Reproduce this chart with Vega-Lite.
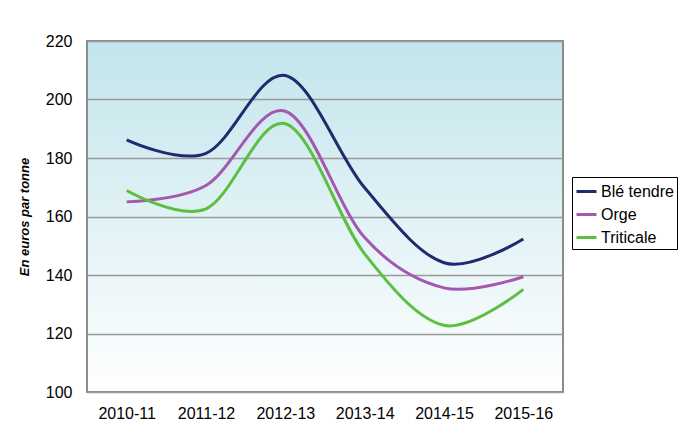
{
  "$schema": "https://vega.github.io/schema/vega-lite/v6.json",
  "width": 476,
  "height": 351,
  "autosize": {"type": "none"},
  "padding": {"left": 87, "top": 41, "right": 120, "bottom": 49},
  "background": "white",
  "data": {
    "values": [
      {"campagne": "2010-11", "culture": "Blé tendre", "prix": 186.2},
      {"campagne": "2011-12", "culture": "Blé tendre", "prix": 181.6},
      {"campagne": "2012-13", "culture": "Blé tendre", "prix": 208.2},
      {"campagne": "2013-14", "culture": "Blé tendre", "prix": 169.8},
      {"campagne": "2014-15", "culture": "Blé tendre", "prix": 144.2},
      {"campagne": "2015-16", "culture": "Blé tendre", "prix": 152.3},
      {"campagne": "2010-11", "culture": "Orge", "prix": 165.0},
      {"campagne": "2011-12", "culture": "Orge", "prix": 170.6},
      {"campagne": "2012-13", "culture": "Orge", "prix": 196.0},
      {"campagne": "2013-14", "culture": "Orge", "prix": 152.8},
      {"campagne": "2014-15", "culture": "Orge", "prix": 135.6},
      {"campagne": "2015-16", "culture": "Orge", "prix": 139.4},
      {"campagne": "2010-11", "culture": "Triticale", "prix": 168.9},
      {"campagne": "2011-12", "culture": "Triticale", "prix": 162.6},
      {"campagne": "2012-13", "culture": "Triticale", "prix": 191.7},
      {"campagne": "2013-14", "culture": "Triticale", "prix": 147.2},
      {"campagne": "2014-15", "culture": "Triticale", "prix": 122.8},
      {"campagne": "2015-16", "culture": "Triticale", "prix": 135.1}
    ]
  },
  "mark": {"type": "line", "interpolate": "cardinal", "strokeWidth": 3},
  "encoding": {
    "x": {
      "field": "campagne",
      "type": "ordinal",
      "scale": {"type": "point", "padding": 0.5},
      "axis": {
        "title": null,
        "labelAngle": 0,
        "ticks": false,
        "domain": false,
        "grid": false,
        "labelPadding": 13,
        "labelFontSize": 16,
        "labelFont": "Liberation Sans",
        "labelColor": "#000000"
      }
    },
    "y": {
      "field": "prix",
      "type": "quantitative",
      "scale": {"domain": [100, 220], "nice": false, "zero": false},
      "axis": {
        "title": "En euros par tonne",
        "titleFont": "Liberation Sans",
        "titleFontSize": 13,
        "titleFontWeight": "bold",
        "titleFontStyle": "italic",
        "titleColor": "#000000",
        "titlePadding": 14,
        "values": [100, 120, 140, 160, 180, 200, 220],
        "ticks": false,
        "domain": false,
        "grid": true,
        "gridColor": "#999999",
        "gridWidth": 1.5,
        "gridOpacity": 1,
        "labelPadding": 15,
        "labelFontSize": 16,
        "labelFont": "Liberation Sans",
        "labelColor": "#000000"
      }
    },
    "color": {
      "field": "culture",
      "type": "nominal",
      "scale": {
        "domain": ["Blé tendre", "Orge", "Triticale"],
        "range": ["#1f2b6e", "#a458b0", "#5cbf40"]
      },
      "legend": {
        "title": null,
        "orient": "none",
        "legendX": 485,
        "legendY": 136,
        "symbolType": "stroke",
        "symbolSize": 400,
        "symbolStrokeWidth": 3,
        "labelFontSize": 16,
        "labelFont": "Liberation Sans",
        "labelColor": "#000000",
        "labelOffset": 3,
        "rowPadding": 3,
        "strokeColor": "#000000",
        "fillColor": "#ffffff",
        "padding": 3
      }
    }
  },
  "config": {
    "view": {
      "stroke": "#8c8c8c",
      "strokeWidth": 2,
      "fill": {
        "gradient": "linear",
        "x1": 0, "y1": 0, "x2": 0, "y2": 1,
        "stops": [
          {"offset": 0, "color": "#c2e5ec"},
          {"offset": 1, "color": "#ffffff"}
        ]
      }
    }
  }
}
